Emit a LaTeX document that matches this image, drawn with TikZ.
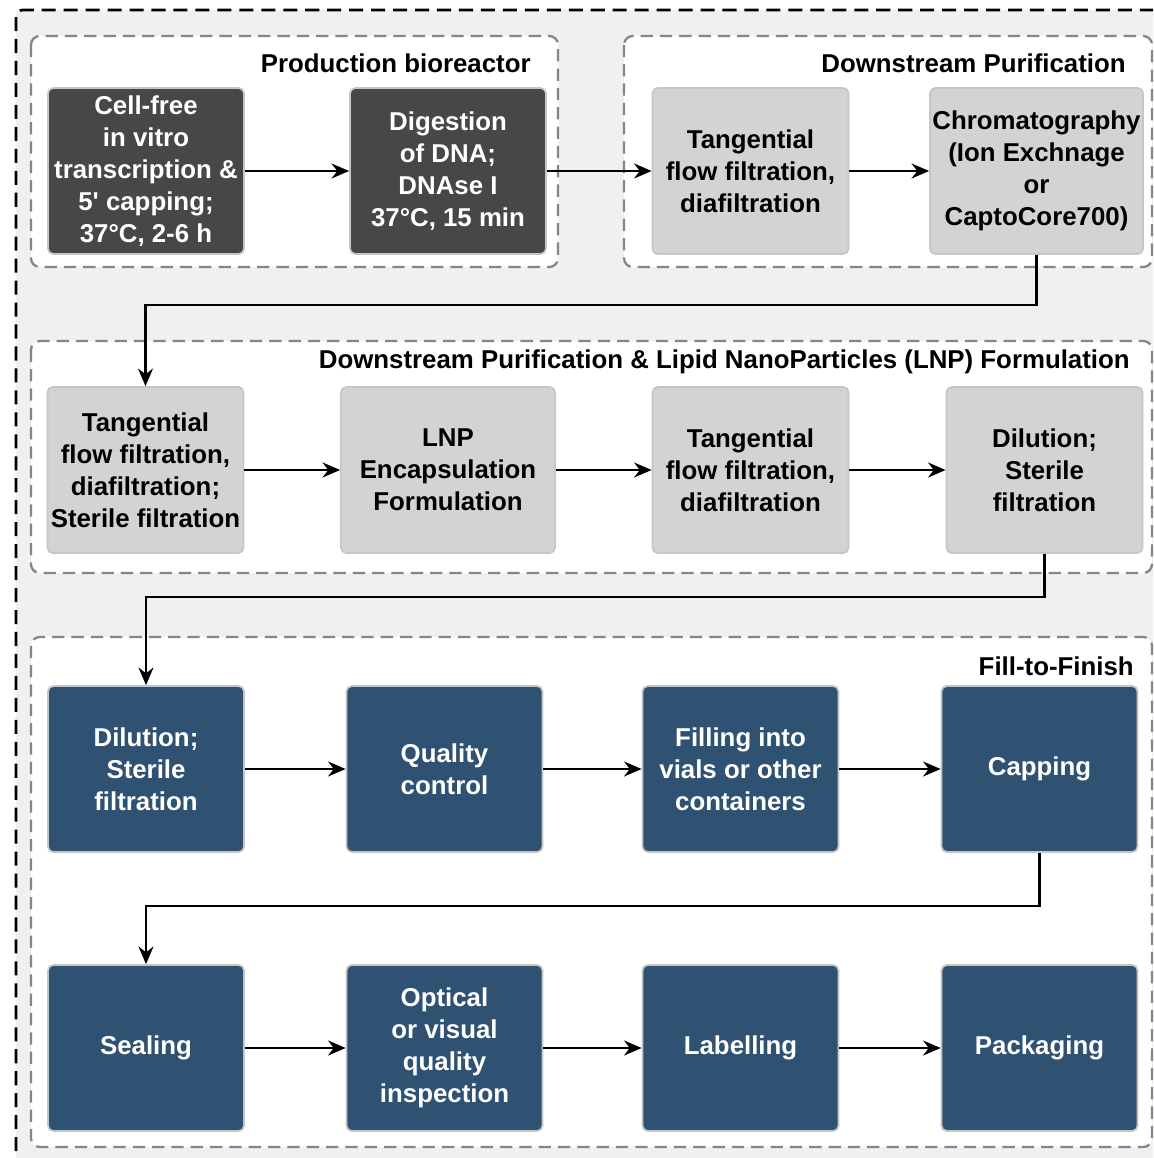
\documentclass[tikz,border=0pt]{standalone}
\usepackage{fontspec}
\setmainfont{Liberation Sans}
\usepackage{xcolor}
\usetikzlibrary{arrows.meta,positioning}
\definecolor{bgGray}{HTML}{F0F0F0}
\definecolor{darkBox}{HTML}{474747}
\definecolor{lightBox}{HTML}{D3D3D3}
\definecolor{blueBox}{HTML}{2F5273}
\definecolor{boxEdge}{HTML}{C6C6C6}
\definecolor{groupEdge}{HTML}{858585}

\begin{document}
\begin{tikzpicture}[x=0.02cm,y=-0.02cm,
  every node/.style={font=\fontsize{14.7}{18.2}\selectfont\bfseries},
  proc/.style={draw=boxEdge,line width=1pt,rounded corners=3pt,align=center,
    minimum width=3.92cm,minimum height=3.32cm,inner sep=0pt},
  darkproc/.style={proc,fill=darkBox,text=white},
  lightproc/.style={proc,fill=lightBox,text=black},
  blueproc/.style={proc,fill=blueBox,text=white},
  group/.style={draw=groupEdge,fill=white,line width=1.3pt,dash pattern=on 7pt off 4pt,rounded corners=5pt},
  grouptitle/.style={anchor=east,text=black,inner sep=0pt},
  flow/.style={-{Stealth[length=10pt,width=8.5pt]},line width=1.4pt}]
  \useasboundingbox (0,0) rectangle (1153,1158);
  \clip (0,0) rectangle (1153,1158);
  \draw[fill=bgGray,line width=1.6pt,dash pattern=on 8pt off 4.5pt,rounded corners=4pt] (16,10) rectangle (1180,1180);
  \draw[group] (31,36) rectangle (558,267);
  \draw[group] (624,36) rectangle (1152,267);
  \draw[group] (31,341) rectangle (1152,573);
  \draw[group] (31,637) rectangle (1152,1147);
  \node[grouptitle] (tprod) at (531,63) {Production bioreactor};
  \node[grouptitle] (tdsp) at (1126,63) {Downstream Purification};
  \node[grouptitle] (tlnp) at (1130,362) {Downstream Purification \& Lipid NanoParticles (LNP) Formulation};
  \node[grouptitle] (tfill) at (1134,666) {Fill-to-Finish};
  % row 1
  \node[darkproc] (ivt) at (146,171) {Cell-free\\in vitro\\transcription \&\\5\textquotesingle{} capping;\\37°C, 2-6 h};
  \node[darkproc] (dnase) at (448,171) {Digestion\\of DNA;\\DNAse I\\37°C, 15 min};
  \node[lightproc] (tffA) at (750.5,171) {Tangential\\flow filtration,\\diafiltration};
  \node[lightproc,minimum width=4.26cm] (chrom) at (1036.5,171) {Chromatography\\(Ion Exchnage\\or\\CaptoCore700)};
  % row 2
  \node[lightproc] (tffB) at (145.5,470) {Tangential\\flow filtration,\\diafiltration;\\Sterile filtration};
  \node[lightproc,minimum width=4.28cm] (lnp) at (448,470) {LNP\\Encapsulation\\Formulation};
  \node[lightproc] (tffC) at (750.5,470) {Tangential\\flow filtration,\\diafiltration};
  \node[lightproc] (dilA) at (1044.5,470) {Dilution;\\Sterile\\filtration};
  % row 3
  \node[blueproc] (dilB) at (146,769) {Dilution;\\Sterile\\filtration};
  \node[blueproc] (qc) at (444.5,769) {Quality\\control};
  \node[blueproc] (filling) at (740.5,769) {Filling into\\vials or other\\containers};
  \node[blueproc] (capping) at (1039.5,769) {Capping};
  % row 4
  \node[blueproc] (sealing) at (146,1048) {Sealing};
  \node[blueproc] (inspect) at (444.5,1048) {Optical\\or visual\\quality\\inspection};
  \node[blueproc] (label) at (740.5,1048) {Labelling};
  \node[blueproc] (pack) at (1039.5,1048) {Packaging};
  \draw[flow] (ivt) -- (dnase);
  \draw[flow] (dnase) -- (tffA);
  \draw[flow] (tffA) -- (chrom);
  \draw[flow] (chrom.south) -- ++(0,50) -| (tffB.north);
  \draw[flow] (tffB) -- (lnp);
  \draw[flow] (lnp) -- (tffC);
  \draw[flow] (tffC) -- (dilA);
  \draw[flow] (dilA.south) -- ++(0,43) -| (dilB.north);
  \draw[flow] (dilB) -- (qc);
  \draw[flow] (qc) -- (filling);
  \draw[flow] (filling) -- (capping);
  \draw[flow] (capping.south) -- ++(0,53) -| (sealing.north);
  \draw[flow] (sealing) -- (inspect);
  \draw[flow] (inspect) -- (label);
  \draw[flow] (label) -- (pack);
\end{tikzpicture}
\end{document}
